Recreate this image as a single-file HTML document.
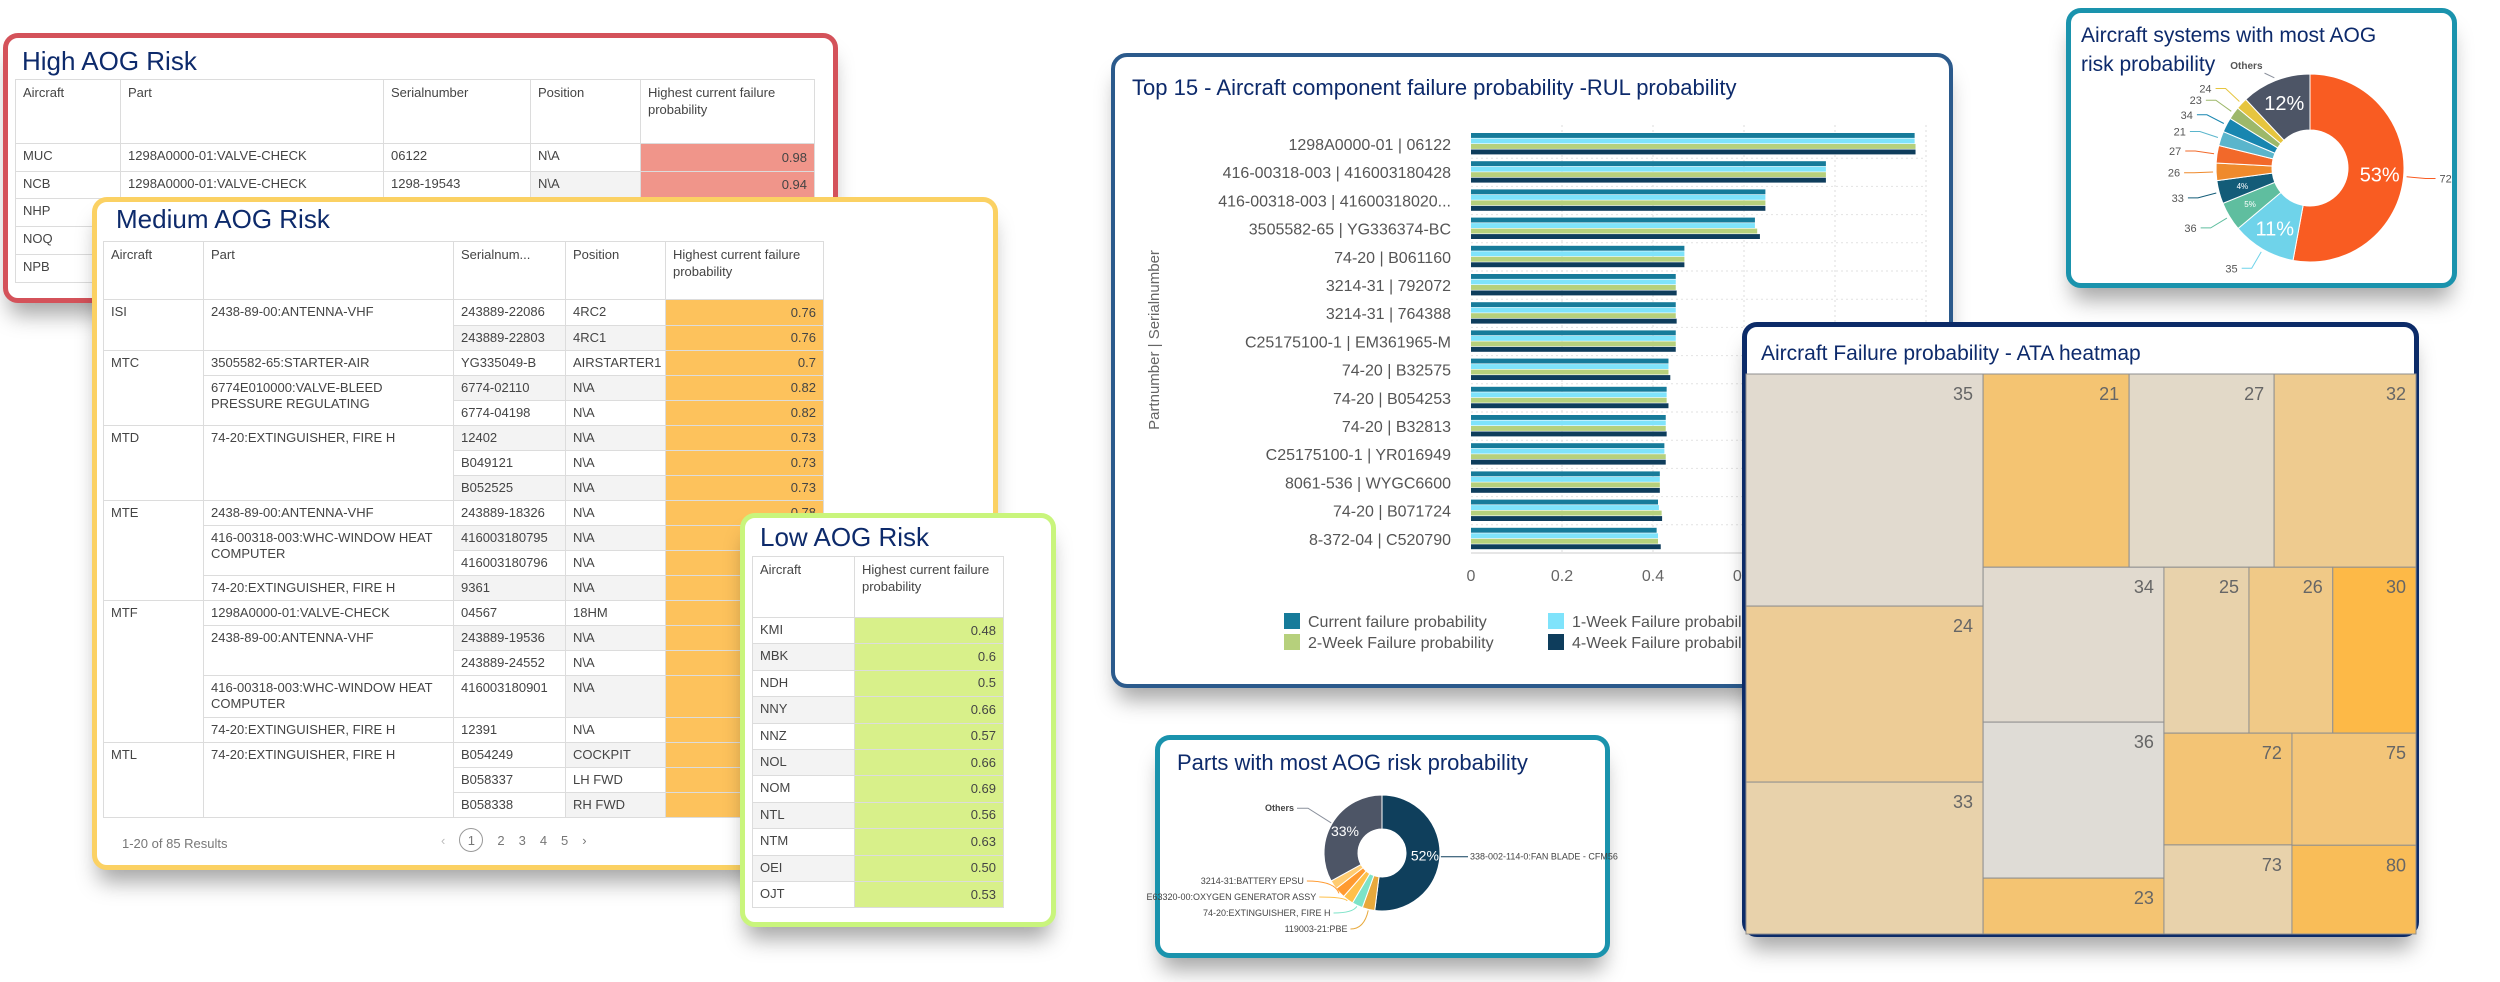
<!DOCTYPE html>
<html><head><meta charset="utf-8">
<style>
*{box-sizing:border-box;margin:0;padding:0}
body{width:2500px;height:982px;background:#fff;position:relative;overflow:hidden;font-family:"Liberation Sans",sans-serif;color:#444}
.box{position:absolute;background:#fff;border-style:solid;border-radius:15px;box-shadow:0 18px 22px -6px rgba(0,0,0,.35)}
.ttl{position:absolute;color:#0d2a6b;white-space:nowrap;font-family:"Liberation Sans",sans-serif}
table{position:absolute;border-collapse:collapse;table-layout:fixed;font-size:13px;color:#444}
td,th{border:1px solid #dcdcdc;padding:4px 7px;text-align:left;font-weight:normal;vertical-align:top;white-space:nowrap;overflow:hidden;line-height:16px}
th{white-space:normal;line-height:17px}
td.v{text-align:right;vertical-align:middle}
td.g{background:#f3f3f3}
.hi td.v{background:#f0958a}
.me td.v{background:#fdc25c}
.lo td.v{background:#d8f08a}
svg{position:absolute;left:0;top:0;overflow:visible}
</style></head><body>

<!-- HIGH -->
<div class="box" style="left:3px;top:33px;width:835px;height:270px;border-width:5px;border-color:#d4525a">
<div class="ttl" style="left:14px;top:8px;font-size:26px">High AOG Risk</div>
<table class="hi" style="left:7px;top:41px;width:799px">
<colgroup><col style="width:105px"><col style="width:263px"><col style="width:147px"><col style="width:110px"><col style="width:174px"></colgroup>
<tr style="height:64px"><th>Aircraft</th><th>Part</th><th>Serialnumber</th><th>Position</th><th>Highest current failure probability</th></tr>
<tr style="height:28px"><td>MUC</td><td>1298A0000-01:VALVE-CHECK</td><td>06122</td><td>N\A</td><td class="v">0.98</td></tr>
<tr style="height:27px"><td>NCB</td><td>1298A0000-01:VALVE-CHECK</td><td>1298-19543</td><td class="g">N\A</td><td class="v">0.94</td></tr>
<tr style="height:28px"><td>NHP</td><td>1298A0000-01:VALVE-CHECK</td><td>1298-19544</td><td>N\A</td><td class="v">0.92</td></tr>
<tr style="height:28px"><td>NOQ</td><td>1298A0000-01:VALVE-CHECK</td><td>1298-19545</td><td>N\A</td><td class="v">0.9</td></tr>
<tr style="height:28px"><td>NPB</td><td>1298A0000-01:VALVE-CHECK</td><td>1298-19546</td><td>N\A</td><td class="v">0.88</td></tr>
</table></div>

<!-- MEDIUM -->
<div class="box" style="left:92px;top:197px;width:906px;height:673px;border-width:5px;border-color:#fbd163">
<div class="ttl" style="left:19px;top:2px;font-size:26px">Medium AOG Risk</div>
<table class="me" style="left:6px;top:39px;width:720px">
<colgroup><col style="width:100px"><col style="width:250px"><col style="width:112px"><col style="width:100px"><col style="width:158px"></colgroup>
<tr style="height:58px"><th>Aircraft</th><th>Part</th><th>Serialnum...</th><th>Position</th><th>Highest current failure probability</th></tr>
<tr style="height:26px"><td rowspan="2">ISI</td><td rowspan="2">2438-89-00:ANTENNA-VHF</td><td>243889-22086</td><td>4RC2</td><td class="v">0.76</td></tr>
<tr style="height:25px"><td class="g">243889-22803</td><td class="g">4RC1</td><td class="v">0.76</td></tr>
<tr style="height:25px"><td rowspan="3">MTC</td><td>3505582-65:STARTER-AIR</td><td>YG335049-B</td><td>AIRSTARTER1</td><td class="v">0.7</td></tr>
<tr style="height:25px"><td rowspan="2" style="white-space:normal">6774E010000:VALVE-BLEED PRESSURE REGULATING</td><td class="g">6774-02110</td><td class="g">N\A</td><td class="v">0.82</td></tr>
<tr style="height:25px"><td>6774-04198</td><td>N\A</td><td class="v">0.82</td></tr>
<tr style="height:25px"><td rowspan="3">MTD</td><td rowspan="3">74-20:EXTINGUISHER, FIRE H</td><td class="g">12402</td><td class="g">N\A</td><td class="v">0.73</td></tr>
<tr style="height:25px"><td>B049121</td><td>N\A</td><td class="v">0.73</td></tr>
<tr style="height:25px"><td class="g">B052525</td><td class="g">N\A</td><td class="v">0.73</td></tr>
<tr style="height:25px"><td rowspan="4">MTE</td><td>2438-89-00:ANTENNA-VHF</td><td>243889-18326</td><td>N\A</td><td class="v">0.78</td></tr>
<tr style="height:25px"><td rowspan="2" style="white-space:normal">416-00318-003:WHC-WINDOW HEAT COMPUTER</td><td class="g">416003180795</td><td class="g">N\A</td><td class="v">0.75</td></tr>
<tr style="height:25px"><td>416003180796</td><td>N\A</td><td class="v">0.75</td></tr>
<tr style="height:25px"><td>74-20:EXTINGUISHER, FIRE H</td><td class="g">9361</td><td class="g">N\A</td><td class="v">0.73</td></tr>
<tr style="height:25px"><td rowspan="5">MTF</td><td>1298A0000-01:VALVE-CHECK</td><td>04567</td><td>18HM</td><td class="v">0.72</td></tr>
<tr style="height:25px"><td rowspan="2">2438-89-00:ANTENNA-VHF</td><td class="g">243889-19536</td><td class="g">N\A</td><td class="v">0.76</td></tr>
<tr style="height:25px"><td>243889-24552</td><td>N\A</td><td class="v">0.76</td></tr>
<tr style="height:42px"><td style="white-space:normal">416-00318-003:WHC-WINDOW HEAT COMPUTER</td><td>416003180901</td><td class="g">N\A</td><td class="v">0.75</td></tr>
<tr style="height:25px"><td>74-20:EXTINGUISHER, FIRE H</td><td>12391</td><td>N\A</td><td class="v">0.73</td></tr>
<tr style="height:25px"><td rowspan="3">MTL</td><td rowspan="3">74-20:EXTINGUISHER, FIRE H</td><td>B054249</td><td class="g">COCKPIT</td><td class="v">0.73</td></tr>
<tr style="height:25px"><td>B058337</td><td>LH FWD</td><td class="v">0.73</td></tr>
<tr style="height:25px"><td>B058338</td><td class="g">RH FWD</td><td class="v">0.73</td></tr>
</table>
<div style="position:absolute;left:25px;top:634px;font-size:13px;color:#777">1-20 of 85 Results</div>
<div style="position:absolute;left:344px;top:626px;font-size:13px;color:#777;display:flex;align-items:center;gap:14px">
<span style="color:#bbb">‹</span>
<span style="width:24px;height:24px;border:1px solid #999;border-radius:50%;display:flex;align-items:center;justify-content:center">1</span>
<span>2</span><span>3</span><span>4</span><span>5</span>
<span>›</span></div>
</div>

<!-- LOW -->
<div class="box" style="left:740px;top:513px;width:316px;height:414px;border-width:5px;border-color:#c9f57c">
<div class="ttl" style="left:15px;top:4px;font-size:26px">Low AOG Risk</div>
<table class="lo" style="left:7px;top:38px;width:251px">
<colgroup><col style="width:102px"><col style="width:149px"></colgroup>
<tr style="height:61px"><th>Aircraft</th><th>Highest current failure probability</th></tr>
<tr style="height:26.4px"><td>KMI</td><td class="v">0.48</td></tr>
<tr style="height:26.4px"><td class="g">MBK</td><td class="v">0.6</td></tr>
<tr style="height:26.4px"><td>NDH</td><td class="v">0.5</td></tr>
<tr style="height:26.4px"><td class="g">NNY</td><td class="v">0.66</td></tr>
<tr style="height:26.4px"><td>NNZ</td><td class="v">0.57</td></tr>
<tr style="height:26.4px"><td class="g">NOL</td><td class="v">0.66</td></tr>
<tr style="height:26.4px"><td>NOM</td><td class="v">0.69</td></tr>
<tr style="height:26.4px"><td class="g">NTL</td><td class="v">0.56</td></tr>
<tr style="height:26.4px"><td>NTM</td><td class="v">0.63</td></tr>
<tr style="height:26.4px"><td class="g">OEI</td><td class="v">0.50</td></tr>
<tr style="height:26.4px"><td>OJT</td><td class="v">0.53</td></tr>
</table></div>

<!-- BAR CHART -->
<div class="box" style="left:1111px;top:53px;width:842px;height:635px;border-width:4px;border-color:#2b5a8c;border-radius:16px">
<svg id="bar" width="834" height="627" viewBox="1115 57 834 627"></svg></div>

<!-- SYSTEMS DONUT -->
<div class="box" style="left:2066px;top:8px;width:391px;height:280px;border-width:5px;border-color:#1a93ad">
<svg id="sys" width="381" height="270" viewBox="2071 13 381 270"></svg></div>

<!-- HEATMAP -->
<div class="box" style="left:1742px;top:322px;width:677px;height:615px;border-width:5px;border-color:#0c2b68">
<svg id="heat" width="667" height="605" viewBox="1747 327 667 605"></svg></div>

<!-- PARTS DONUT -->
<div class="box" style="left:1155px;top:735px;width:455px;height:223px;border-width:5px;border-color:#1a93ad">
<svg id="parts" width="445" height="213" viewBox="1160 740 445 213"></svg></div>

<script>
// ---------- bar chart data ----------
const barLabels=['1298A0000-01 | 06122','416-00318-003 | 416003180428','416-00318-003 | 41600318020...','3505582-65 | YG336374-BC','74-20 | B061160','3214-31 | 792072','3214-31 | 764388','C25175100-1 | EM361965-M','74-20 | B32575','74-20 | B054253','74-20 | B32813','C25175100-1 | YR016949','8061-536 | WYGC6600','74-20 | B071724','8-372-04 | C520790'];
const curVals=[0.975,0.78,0.647,0.624,0.469,0.45,0.45,0.45,0.434,0.43,0.428,0.425,0.415,0.411,0.408];
const wk1Vals=[0.975,0.78,0.647,0.624,0.469,0.45,0.45,0.45,0.434,0.43,0.428,0.425,0.415,0.413,0.411];
const wk2Vals=[0.977,0.78,0.647,0.629,0.469,0.45,0.45,0.45,0.434,0.43,0.428,0.428,0.415,0.419,0.411];
const wk4Vals=[0.977,0.78,0.647,0.635,0.469,0.452,0.452,0.45,0.438,0.434,0.43,0.428,0.415,0.42,0.417];
const xTicks=[0,0.2,0.4,0.6,0.8,1];
const seriesNames=['Current failure probability','1-Week Failure probability','2-Week Failure probability','4-Week Failure probability'];
// ---------- systems donut data ----------
const sysLabels=['72','35','36','33','26','27','21','34','23','24','Others'];
const sysVals=[53,11,5,4,3,3,2.5,2.5,2.2,2,12];
// ---------- parts donut data ----------
const partLabels=['338-002-114-0:FAN BLADE - CFM56','119003-21:PBE','74-20:EXTINGUISHER, FIRE H','E63320-00:OXYGEN GENERATOR ASSY','3214-31:BATTERY EPSU','','Others'];
const partVals=[52,3.5,3,3,3,2.5,33];
// ---------- heatmap data ----------
const ataCodes=['35','24','33','21','27','32','34','36','23','25','26','30','72','73','75','80'];
const ataSize=[55,41.7,36,28.2,28,27.4,28,28.2,10.1,14.1,13.9,13.8,14.3,11.4,13.9,11.0];
const ataRisk=[0.05,0.45,0.3,0.7,0.1,0.5,0.05,0,0.7,0.3,0.55,1,0.68,0.3,0.65,0.88];

const NS='http://www.w3.org/2000/svg';
function mk(parent,tag,attrs,text){const e=document.createElementNS(NS,tag);for(const k in attrs)e.setAttribute(k,attrs[k]);if(text!==undefined)e.textContent=text;parent.appendChild(e);return e;}

// ---- bar chart ----
(function(){
const s=document.getElementById('bar');
const x0=1471,xw=455,y0=133,pitch=28.2,bh=5.5;
const X=v=>x0+v*xw, Y=i=>y0+i*pitch;
const t=mk(s,'text',{x:1132,y:95,'font-size':22,fill:'#0d2a6b'},'Top 15 - Aircraft component failure probability -RUL probability');


xTicks.forEach(v=>{
 if(v>0){const g=mk(s,'line',{x1:X(v),x2:X(v),y1:125,y2:553,stroke:'#ddd','stroke-dasharray':'2,3'});
 }
 const l=mk(s,'text',{x:X(v),y:581,'font-size':16,fill:'#666','text-anchor':'middle'},String(v));
 
 
});
for(let i=1;i<barLabels.length;i++){const h=mk(s,'line',{x1:X(0),x2:X(1),y1:Y(i)-3,y2:Y(i)-3,stroke:'#e2e2e2','stroke-dasharray':'2,3'});}
mk(s,'line',{x1:X(0),x2:X(1),y1:553,y2:553,stroke:'#ccc'});
const cols=['#167b9a','#7fe3fb','#b6d07c','#0e3d5c'];
const series=[curVals,wk1Vals,wk2Vals,wk4Vals];
barLabels.forEach((lab,i)=>{
 const tl=mk(s,'text',{x:1451,y:Y(i)+17,'font-size':16,fill:'#555','text-anchor':'end'},lab);
 
 
 series.forEach((arr,k)=>{
  const r=mk(s,'rect',{x:X(0),y:Y(i)+k*bh,width:X(arr[i])-X(0),height:bh-0.6,fill:cols[k]});
  
  
 });
});
const yt=mk(s,'text',{x:0,y:0,'font-size':15,fill:'#666','text-anchor':'middle',transform:'translate(1159,340) rotate(-90)'},'Partnumber | Serialnumber');


const lp=[[1284,614],[1548,614],[1284,635],[1548,635]];
[0,1,2,3].forEach(k=>{
 const r=mk(s,'rect',{x:lp[k][0],y:lp[k][1]-1,width:16,height:16,fill:cols[k]});
 
 
 const tx=mk(s,'text',{x:lp[k][0]+24,y:lp[k][1]+13,'font-size':16,fill:'#555'},seriesNames[k]);
 
 
});
})();

// ---- donut helper ----
function donut(s,cx,cy,R,r,vals,cols){
 const tot=vals.reduce((a,b)=>a+b,0);let a=0;const out=[];
 vals.forEach((v,i)=>{
  const a0=a/tot*2*Math.PI,a1=(a+v)/tot*2*Math.PI;a+=v;
  const P=(rr,ang)=>[cx+rr*Math.sin(ang),cy-rr*Math.cos(ang)];
  const lg=(a1-a0)>Math.PI?1:0;
  const p1=P(R,a0),p2=P(R,a1),p3=P(r,a1),p4=P(r,a0);
  const p=mk(s,'path',{d:`M${p1}A${R},${R} 0 ${lg} 1 ${p2}L${p3}A${r},${r} 0 ${lg} 0 ${p4}Z`,fill:cols[i],stroke:'#fff','stroke-width':1});
  
  
  out.push({mid:(a0+a1)/2,pct:v/tot*100});
 });
 return out;
}

// ---- systems donut ----
(function(){
const s=document.getElementById('sys');
const t1=mk(s,'text',{x:2081,y:42,'font-size':21,fill:'#0d2a6b'},'Aircraft systems with most AOG');

const t2=mk(s,'text',{x:2081,y:71,'font-size':21,fill:'#0d2a6b'},'risk probability');

const cx=2310,cy=168,R=94,r=38;
const cols=['#f95c22','#6fd3ea','#5fbe9f','#135c78','#ef8a2c','#f2692a','#5ab5cc','#1886b0','#9db86a','#e6c53f','#4d5566'];
const info=donut(s,cx,cy,R,r,sysVals,cols);
info.forEach((d,i)=>{
 const rr=(R+r)/2+4;
 if(d.pct>=3){const fs=d.pct>=10?20:8;
  const pt=mk(s,'text',{x:cx+rr*Math.sin(d.mid),y:cy-rr*Math.cos(d.mid)+fs*0.35,'font-size':fs,fill:'#fff','text-anchor':'middle'},Math.round(d.pct)+'%');
  }
 const isO=sysLabels[i]==='Others';
 const sx=cx+(R+3)*Math.sin(d.mid),sy=cy-(R+3)*Math.cos(d.mid);
 const right=Math.sin(d.mid)>0;
 if(isO){
  const ex=cx+(R+8)*Math.sin(d.mid)-8,ey=cy-(R+8)*Math.cos(d.mid);
  mk(s,'path',{d:`M${sx},${sy}L${ex},${ey}`,fill:'none',stroke:'#8a909c','stroke-width':1});
  const lb=mk(s,'text',{x:ex-2,y:ey-4,'font-size':10,'font-weight':'bold',fill:'#555','text-anchor':'end'},sysLabels[i]);
  
  return;
 }
 const ex=cx+(R+22)*Math.sin(d.mid),ey=cy-(R+22)*Math.cos(d.mid);
 mk(s,'path',{d:`M${sx},${sy}L${ex},${ey}L${ex+(right?10:-10)},${ey}`,fill:'none',stroke:cols[i],'stroke-width':1});
 const lb=mk(s,'text',{x:ex+(right?14:-14),y:ey+4,'font-size':11,fill:'#555','text-anchor':right?'start':'end'},sysLabels[i]);
 
});
})();

// ---- parts donut ----
(function(){
const s=document.getElementById('parts');
const t=mk(s,'text',{x:1177,y:770,'font-size':22,fill:'#0d2a6b'},'Parts with most AOG risk probability');

const cx=1382,cy=853,R=58,r=24;
const cols=['#0f3f5c','#e8a93c','#7de3c8','#ffc04a','#ff9a30','#ffcb70','#4d5566'];
const info=donut(s,cx,cy,R,r,partVals,cols);
let j=0;
info.forEach((d,i)=>{
 const rr=(R+r)/2+2;
 if(d.pct>=10){const pt=mk(s,'text',{x:cx+rr*Math.sin(d.mid),y:cy-rr*Math.cos(d.mid)+5,'font-size':14,fill:'#fff','text-anchor':'middle'},Math.round(d.pct)+'%');
  }
 if(!partLabels[i])return;
 const sx=cx+(R+1)*Math.sin(d.mid),sy=cy-(R+1)*Math.cos(d.mid);
 let lx,ly,anchor,path;
 if(i===0){lx=cx+R+30;ly=sy;anchor='start';path=`M${sx},${sy}L${lx-2},${ly}`;}
 else if(i===6){lx=cx-R-30;ly=cy-R*0.72;anchor='end';path=`M${sx},${sy}L${lx+14},${ly-3}L${lx+3},${ly-3}`;}
 else{ly=cy+79-(j)*16;lx=cx+(R+30)*Math.sin(d.mid)-14;anchor='end';j++;
   path=`M${sx},${sy}Q${sx-4},${ly-3} ${lx+3},${ly-3}`;}
 mk(s,'path',{d:path,fill:'none',stroke:i===6?'#8a909c':cols[i],'stroke-width':1});
 const lb=mk(s,'text',{x:lx,y:ly+(i===0?3:0),'font-size':9,'font-weight':i===6?'bold':'normal',fill:'#444','text-anchor':anchor},partLabels[i]);
 
});
})();

// ---- heatmap (treemap) ----
(function(){
const s=document.getElementById('heat');
const t=mk(s,'text',{x:1761,y:360,'font-size':21,fill:'#0d2a6b'},'Aircraft Failure probability - ATA heatmap');

const tree={d:'h',c:[{d:'v',c:[0,1,2]},{d:'v',c:[{d:'h',c:[3,4,5]},{d:'h',c:[{d:'v',c:[6,7,8]},{d:'v',c:[{d:'h',c:[9,10,11]},{d:'h',c:[{d:'v',c:[12,13]},{d:'v',c:[14,15]}]}]}]}]}]};
const sum=n=>typeof n==='number'?ataSize[n]:n.c.reduce((a,b)=>a+sum(b),0);
const lo=[223,220,214],hi=[253,185,71];
const col=v=>'rgb('+lo.map((c,k)=>Math.round(c+(hi[k]-c)*v)).join(',')+')';
function lay(n,x,y,w,h){
 if(typeof n==='number'){
  const r=mk(s,'rect',{x:x,y:y,width:w,height:h,fill:col(ataRisk[n]),stroke:'#8f8f8f','stroke-width':1});
  
  
  const l=mk(s,'text',{x:x+w-10,y:y+26,'font-size':18,fill:'#666','text-anchor':'end'},ataCodes[n]);
  
  
  return;}
 const tot=sum(n);let off=0;
 n.c.forEach(ch=>{const f=sum(ch)/tot;
  if(n.d==='h'){lay(ch,x+off,y,w*f,h);off+=w*f;}else{lay(ch,x,y+off,w,h*f);off+=h*f;}});
}
lay(tree,1746,374,670,560);
})();
</script>
</body></html>
